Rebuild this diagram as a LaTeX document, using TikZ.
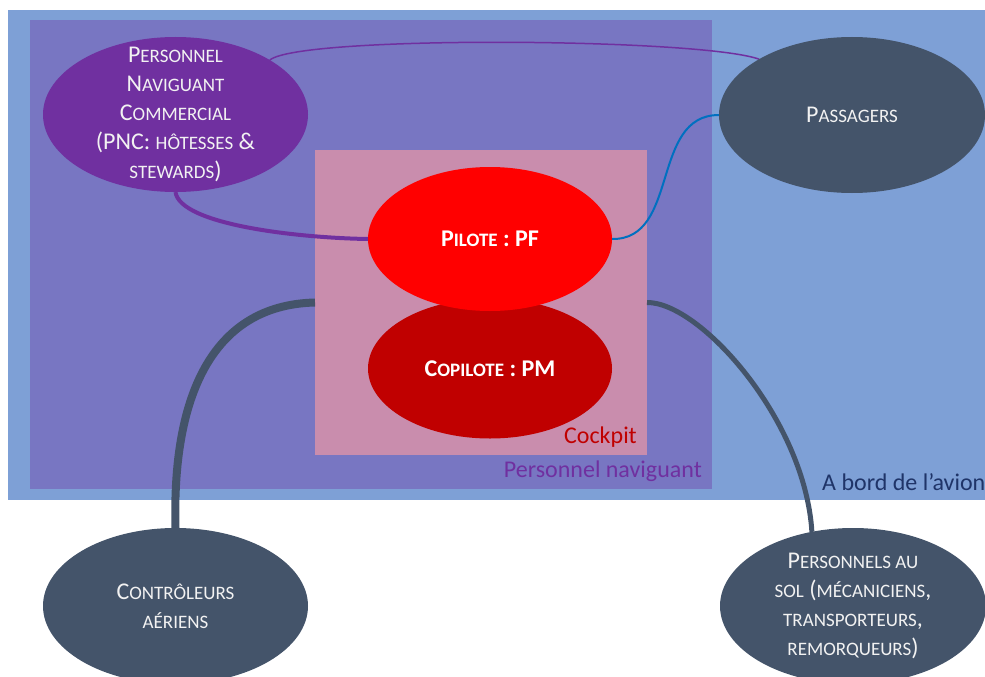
\documentclass[tikz,border=0pt]{standalone}
\usepackage{fontspec}
\setmainfont{Carlito}
\usetikzlibrary{shapes.geometric}
\definecolor{avion}{HTML}{7EA0D6}
\definecolor{pnzone}{HTML}{7876C2}
\definecolor{cockzone}{HTML}{C98DAD}
\definecolor{pncol}{HTML}{7030A0}
\definecolor{slate}{HTML}{44546A}
\definecolor{darkred}{HTML}{C00000}
\definecolor{linkblue}{HTML}{0070C0}
\definecolor{navy}{HTML}{1F3468}
\newcommand\Bg[1]{{\fontsize{24}{29}\selectfont #1}}
\newcommand\Sm[1]{{\fontsize{19}{29}\selectfont #1}}
\pgfdeclarelayer{back}
\pgfdeclarelayer{links}
\pgfsetlayers{back,links,main}
\begin{document}
\begin{tikzpicture}[x=1pt,y=-1pt,
  zone/.style={inner sep=0, outer sep=0, anchor=north west, draw=none},
  oval/.style={ellipse, inner sep=0, outer sep=0, draw=none},
  txt/.style={text=white!95!black, align=center, font=\fontsize{24}{29}\selectfont, inner sep=0},
  lbl/.style={font=\fontsize{24}{29}\selectfont, inner sep=0},
]
\useasboundingbox (0,0) rectangle (985,677);
\clip (0,0) rectangle (985,677);
\begin{pgfonlayer}{back}
\node[zone, fill=avion, minimum width=990pt, minimum height=490pt] (avion) at (8,10) {};
\node[zone, fill=pnzone, minimum width=682pt, minimum height=469pt] (pn) at (30,20) {};
\node[zone, fill=cockzone, minimum width=332pt, minimum height=305pt] (cockpit) at (315,150) {};
\end{pgfonlayer}

\node[oval, fill=pncol, minimum width=265pt, minimum height=155pt] (pnc) at (175.5,114.5) {};
\node[oval, fill=slate, minimum width=266pt, minimum height=156pt] (pass) at (852,115) {};
\node[oval, fill=darkred, minimum width=244pt, minimum height=140pt] (copil) at (490,368.5) {};
\node[oval, fill=red, minimum width=244pt, minimum height=144pt] (pil) at (490,239) {};
\node[oval, fill=slate, minimum width=265pt, minimum height=156pt] (ctrl) at (175.5,606) {};
\node[oval, fill=slate, minimum width=266pt, minimum height=156pt] (sol) at (853,606) {};

\node[txt] (pnct) at (pnc.center) {\Bg{P}\Sm{ERSONNEL}\\ \Bg{N}\Sm{AVIGUANT}\\ \Bg{C}\Sm{OMMERCIAL}\\ (PNC: \Sm{HÔTESSES} \&\\ \Sm{STEWARDS})};
\node[txt] (passt) at (pass.center) {\Bg{P}\Sm{ASSAGERS}};
\node[txt, text=white, font=\fontsize{24}{29}\selectfont\bfseries] (pilt) at (pil.center) {P\Sm{\bfseries ILOTE} : PF};
\node[txt, text=white, font=\fontsize{24}{29}\selectfont\bfseries] (copilt) at (copil.center) {C\Sm{\bfseries OPILOTE} : PM};
\node[txt] (ctrlt) at (ctrl.center) {\Bg{C}\Sm{ONTRÔLEURS}\\ \Sm{AÉRIENS}};
\node[txt] (solt) at (sol.center) {\Bg{P}\Sm{ERSONNELS AU}\\ \Sm{SOL} (\Sm{MÉCANICIENS},\\ \Sm{TRANSPORTEURS},\\ \Sm{REMORQUEURS})};

\node[lbl, anchor=base east, text=darkred] (lcock) at (637,443) {Cockpit};
\node[lbl, anchor=base east, text=pncol] (lpn) at (702,477) {Personnel naviguant};
\node[lbl, anchor=base west, text=navy] (lavion) at (822,490) {A bord de l’avion};

\begin{pgfonlayer}{links}
\draw[line width=4pt, draw=pncol] (pnc.south) .. controls (180,225) and (300,238) .. (pil.west);
\draw[line width=1.5pt, draw=pncol] (pnc.30) .. controls (300,35) and (700,38) .. (pass.149);
\draw[line width=2pt, draw=linkblue] (pil.east) .. controls (680,240) and (650,115) .. (pass.west);
\draw[line width=8pt, draw=slate] (ctrl.north) .. controls (172,400) and (210,305) .. (cockpit.west);
\draw[line width=5pt, draw=slate] (cockpit.east) .. controls (700,302) and (805,420) .. (sol.119);
\end{pgfonlayer}
\end{tikzpicture}
\end{document}
